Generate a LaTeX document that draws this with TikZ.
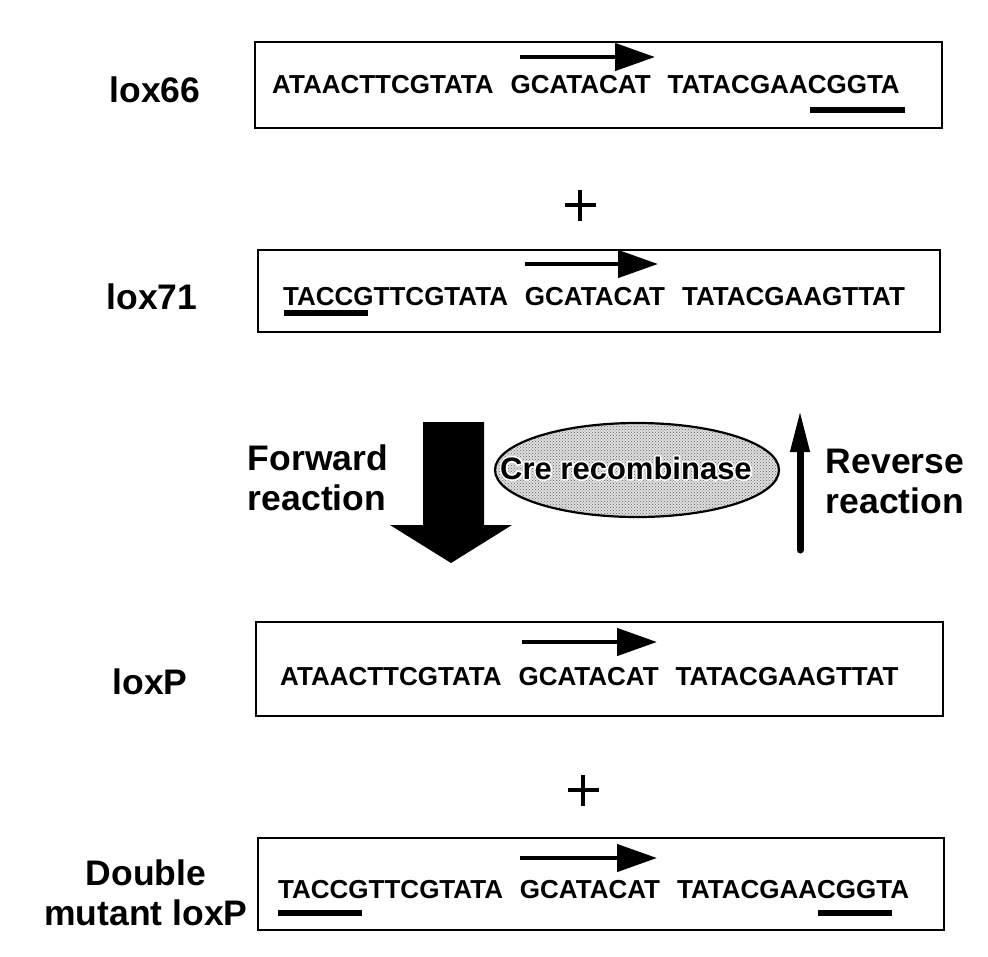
\documentclass[tikz,border=0pt]{standalone}
\usepackage{fontspec}
\setmainfont{Liberation Sans}
\usetikzlibrary{patterns,arrows.meta}
\newcommand{\halostroke}[1]{\special{pdf:literal q 1 Tr 1 1 1 RG 3.2 w 1 j}#1\special{pdf:literal Q}}
\begin{document}
\begin{tikzpicture}[x=1pt,y=-1pt,
  seqbox/.style={draw,line width=2.2pt,rectangle,inner sep=0pt},
  seq/.style={anchor=west,inner sep=0pt,font=\fontsize{26}{30}\selectfont\bfseries},
  lbl/.style={inner sep=0pt,font=\fontsize{35.5}{40}\selectfont\bfseries,align=center},
  crefont/.style={inner sep=0pt,font=\fontsize{31}{33}\selectfont\bfseries},
  ubar/.style={line width=6pt},
  dirarrow/.style={line width=4.5pt,-{Triangle[length=40pt,width=27pt]}},
  plusline/.style={line width=4pt}]
\useasboundingbox (0,0) rectangle (988,956);
\newcommand{\gapA}{\hspace{17pt}}
% boxes
\node[seqbox,minimum width=687pt,minimum height=86pt] (b1) at (598.5,85) {};
\node[seqbox,minimum width=682pt,minimum height=82pt] (b2) at (599,291) {};
\node[seqbox,minimum width=687pt,minimum height=94pt] (b3) at (599.5,669) {};
\node[seqbox,minimum width=686pt,minimum height=92pt] (b4) at (601,884) {};
% sequences
\node[seq] (s1) at (272,85) {ATAACTTCGTATA\gapA GCATACAT\gapA TATACGAACGGTA};
\node[seq] (s2) at (283,297) {TACCGTTCGTATA\gapA GCATACAT\gapA TATACGAAGTTAT};
\node[seq] (s3) at (280,677) {ATAACTTCGTATA\gapA GCATACAT\gapA TATACGAAGTTAT};
\node[seq] (s4) at (278,890) {TACCGTTCGTATA\gapA GCATACAT\gapA TATACGAACGGTA};
% direction arrows
\coordinate (a1s) at (520,57); \coordinate (a1e) at (655,57);
\coordinate (a2s) at (525,264); \coordinate (a2e) at (658,264);
\coordinate (a3s) at (522,642); \coordinate (a3e) at (657,642);
\coordinate (a4s) at (520,858); \coordinate (a4e) at (657,858);
\draw[dirarrow] (a1s) -- (a1e);
\draw[dirarrow] (a2s) -- (a2e);
\draw[dirarrow] (a3s) -- (a3e);
\draw[dirarrow] (a4s) -- (a4e);
% underlines
\coordinate (u1s) at (810,110); \coordinate (u1e) at (905,110);
\coordinate (u2s) at (284,313); \coordinate (u2e) at (368,313);
\coordinate (u3s) at (278,913); \coordinate (u3e) at (362,913);
\coordinate (u4s) at (818,913); \coordinate (u4e) at (892,913);
\draw[ubar] (u1s) -- (u1e);
\draw[ubar] (u2s) -- (u2e);
\draw[ubar] (u3s) -- (u3e);
\draw[ubar] (u4s) -- (u4e);
% labels
\node[lbl] (l1) at (155,90) {lox66};
\node[lbl] (l2) at (152,297) {lox71};
\node[lbl] (l3) at (150,682) {loxP};
\node[lbl] (l4) at (146,893) {Double\\mutant loxP};
% plus signs
\draw[plusline] (565,205) -- (596,205);
\draw[plusline] (580,190) -- (580,221);
\draw[plusline] (568,790) -- (599,790);
\draw[plusline] (583,775) -- (583,806);
% forward arrow
\fill (423,422) -- (484,422) -- (484,525) -- (512,525) -- (451,563) -- (390,525) -- (423,525) -- cycle;
\node[lbl,align=left] (fw) at (318,478) {Forward\\reaction};
% reverse arrow
\coordinate (rvs) at (800,550); \coordinate (rve) at (800,410);
\draw[line width=7pt,line cap=round,-{Triangle[length=42pt,width=18pt]}] (rvs) -- (rve);
\node[lbl,align=left] (rv) at (895,481) {Reverse\\reaction};
% ellipse
\draw[line width=2.2pt,preaction={fill=gray!25},pattern=crosshatch dots,pattern color=gray!75!black] (637,470) ellipse [x radius=142pt,y radius=47pt];
\node[crefont] (crehalo) at (626,468) {\halostroke{Cre recombinase}};
\node[crefont] (cre) at (626,468) {Cre recombinase};
\end{tikzpicture}
\end{document}
